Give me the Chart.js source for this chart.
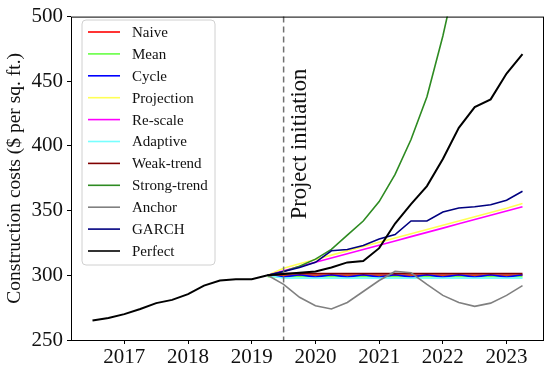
<!DOCTYPE html>
<html>
<head>
<meta charset="utf-8">
<script src="https://cdn.jsdelivr.net/npm/chart.js@4.4.0/dist/chart.umd.min.js"></script>
<style>
html, body { margin: 0; padding: 0; background: #fff; }
</style>
</head>
<body>
<canvas id="costChart" width="550" height="373"></canvas>
<script>
// quarterly time axis (decimal years)
const histQuarters = [2016.5, 2016.75, 2017, 2017.25, 2017.5, 2017.75, 2018, 2018.25, 2018.5, 2018.75,
    2019, 2019.25, 2019.5, 2019.75, 2020, 2020.25, 2020.5, 2020.75, 2021, 2021.25, 2021.5, 2021.75,
    2022, 2022.25, 2022.5, 2022.75, 2023, 2023.25];
const forecastQuarters = [2019.25, 2019.5, 2019.75, 2020, 2020.25, 2020.5, 2020.75, 2021, 2021.25,
    2021.5, 2021.75, 2022, 2022.25, 2022.5, 2022.75, 2023, 2023.25];

// actual costs
const perfect = [265, 267, 270, 274, 278.5, 281, 285.5, 292, 296, 297, 297, 300,
    301, 302, 303, 306, 310, 311, 321, 340, 355, 369, 390, 414, 430, 436, 456, 471];

// forecasts made at project initiation
const naive = [300, 300, 300, 300, 300, 300, 300, 300, 300, 300, 300, 300, 300, 300, 300, 300, 300];
const mean = [299, 299, 299, 299, 299, 299, 299, 299, 299, 299, 299, 299, 299, 299, 299, 299, 299];
const cycle = [300, 298.6, 300.4, 298.6, 300.4, 298.6, 300.4, 298.6, 300.4, 298.6, 300.4, 298.6, 300.4, 298.6, 300.4, 298.6, 300.4];
const projection = [300, 305.5, 309, 312.3, 315.6, 318.9, 322.2, 325.5, 328.8, 332.1, 335.4, 338.7, 342, 345.3, 348.6, 351.9, 355.5];
const rescale = [300, 303.5, 306.8, 310.1, 313.4, 316.7, 320, 323.3, 326.6, 329.9, 333.2, 336.5, 339.8, 343.1, 346.4, 349.7, 353];
const adaptive = [300, 297.8, 297.8, 297.8, 297.8, 297.8, 297.8, 297.8, 297.8, 297.8, 297.8, 297.8, 297.8, 297.8, 297.8, 297.8, 297.8];
const weakTrend = [300, 301.3, 301.3, 301.3, 301.3, 301.3, 301.3, 301.3, 301.3, 301.3, 301.3, 301.3, 301.3, 301.3, 301.3, 301.3, 301.3];
const strongTrend = [300, 303, 307, 312.5, 320, 331, 342, 357, 378, 405, 438, 485, 540, 600, 670, 750, 840];
const anchor = [300, 293, 283, 276.5, 274, 279, 287.5, 296, 303, 302, 293, 284.5, 279, 276, 278.5, 284.5, 292];
const garch = [300, 303, 306, 310, 319, 320, 323, 328, 331.5, 342, 342, 349, 352, 353, 354.5, 358, 365];

const seriesNames = ['Naive', 'Mean', 'Cycle', 'Projection', 'Re-scale', 'Adaptive', 'Weak-trend',
    'Strong-trend', 'Anchor', 'GARCH', 'Perfect'];
const seriesValues = [naive, mean, cycle, projection, rescale, adaptive, weakTrend, strongTrend, anchor, garch, perfect];
const seriesColors = ['#ff0000', '#66ff44', '#0000ff', '#ffff55', '#ff00ff', '#77ffff', '#800000',
    '#2e8b22', '#808080', '#000080', '#000000'];

const xTicks = [2017, 2018, 2019, 2020, 2021, 2022, 2023];
const yTicks = [250, 300, 350, 400, 450, 500];
const initiation = 2019.5;

const serif = "'Liberation Serif', 'DejaVu Serif', serif";

const datasets = seriesNames.map((name, i) => {
    const xs = seriesValues[i] === perfect ? histQuarters : forecastQuarters;
    return {
        label: name,
        data: seriesValues[i].map((v, j) => ({ x: xs[j], y: v })),
        borderColor: seriesColors[i],
        backgroundColor: seriesColors[i],
        borderWidth: name === 'Perfect' ? 2 : 1.6,
        pointRadius: 0,
        tension: 0,
        order: seriesNames.length - i   // later series on top, like matplotlib
    };
});

// frame, initiation marker and legend
const extras = {
    id: 'extras',
    afterDatasetsDraw(chart) {
        const { ctx, chartArea: a, scales } = chart;
        ctx.save();

        // dashed initiation line
        const xi = scales.x.getPixelForValue(initiation);
        ctx.strokeStyle = '#707070';
        ctx.lineWidth = 1.5;
        ctx.setLineDash([6, 4]);
        ctx.beginPath();
        ctx.moveTo(xi, a.top);
        ctx.lineTo(xi, a.bottom);
        ctx.stroke();
        ctx.setLineDash([]);

        ctx.translate(xi + 16, 144);
        ctx.rotate(-Math.PI / 2);
        ctx.fillStyle = '#111';
        ctx.font = '22.5px ' + serif;
        ctx.textAlign = 'center';
        ctx.textBaseline = 'middle';
        ctx.fillText('Project initiation', 0, 0);
        ctx.setTransform(1, 0, 0, 1, 0, 0);

        // axes box
        ctx.strokeStyle = '#000';
        ctx.lineWidth = 1;
        ctx.strokeRect(a.left + 0.5, a.top + 0.5, a.right - a.left - 1, a.bottom - a.top);

        // legend
        const lx = 82, ly = 20, lw = 133, lh = 245, r = 4;
        ctx.beginPath();
        ctx.moveTo(lx + r, ly);
        ctx.arcTo(lx + lw, ly, lx + lw, ly + lh, r);
        ctx.arcTo(lx + lw, ly + lh, lx, ly + lh, r);
        ctx.arcTo(lx, ly + lh, lx, ly, r);
        ctx.arcTo(lx, ly, lx + lw, ly, r);
        ctx.closePath();
        ctx.fillStyle = 'rgba(255,255,255,0.85)';
        ctx.fill();
        ctx.strokeStyle = '#d0d0d0';
        ctx.stroke();

        ctx.font = '15px ' + serif;
        ctx.textAlign = 'left';
        ctx.textBaseline = 'middle';
        chart.data.datasets.forEach((ds, i) => {
            const y = 32 + i * 21.9;
            ctx.strokeStyle = ds.borderColor;
            ctx.lineWidth = 1.6;
            ctx.beginPath();
            ctx.moveTo(88, y);
            ctx.lineTo(120, y);
            ctx.stroke();
            ctx.fillStyle = '#111';
            ctx.fillText(ds.label, 132, y + 1);
        });
        ctx.restore();
    }
};

new Chart(document.getElementById('costChart'), {
    type: 'line',
    data: { datasets: datasets },
    options: {
        responsive: false,
        animation: false,
        layout: { padding: { left: 0, right: 6, top: 13, bottom: 0 } },
        plugins: { legend: { display: false }, tooltip: { enabled: false } },
        scales: {
            x: {
                type: 'linear',
                min: 2016.1625,
                max: 2023.5875,
                afterBuildTicks: (s) => { s.ticks = xTicks.map(v => ({ value: v })); },
                afterFit: (s) => { s.height = 33; },
                grid: { drawOnChartArea: false, tickLength: 4, color: '#000', tickColor: '#000' },
                border: { display: false },
                ticks: { color: '#111', padding: 1, maxRotation: 0, font: { family: serif, size: 21 },
                    callback: (v) => String(v) }
            },
            y: {
                min: 250,
                max: 500,
                afterBuildTicks: (s) => { s.ticks = yTicks.map(v => ({ value: v })); },
                afterFit: (s) => { s.width = 71; },
                grid: { drawOnChartArea: false, tickLength: 4, color: '#000', tickColor: '#000' },
                border: { display: false },
                ticks: { color: '#111', padding: 4, font: { family: serif, size: 21 } },
                title: {
                    display: true,
                    text: 'Construction costs ($ per sq. ft.)',
                    color: '#111',
                    font: { family: serif, size: 19.5 },
                    padding: { top: 3, bottom: 0 }
                }
            }
        }
    },
    plugins: [extras]
});
</script>
</body>
</html>
